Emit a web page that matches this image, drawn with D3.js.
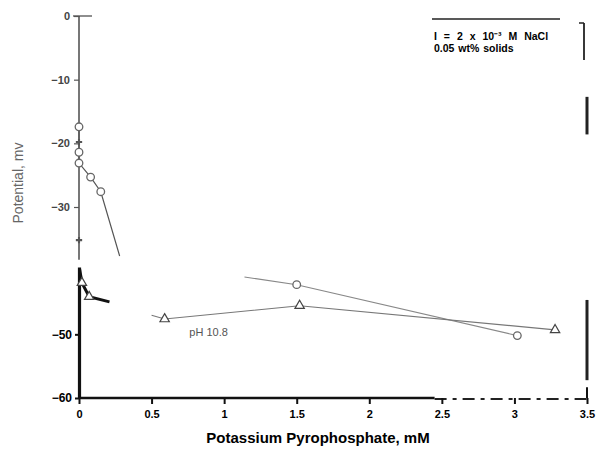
<!DOCTYPE html>
<html><head><meta charset="utf-8">
<script src="https://cdn.jsdelivr.net/npm/d3@7"></script>
<style>body{margin:0;background:#fff}svg{display:block}</style>
</head><body>
<svg id="c" width="600" height="453"></svg>
<script>
// ---- data ----
const xTicks = [0, 0.5, 1, 1.5, 2, 2.5, 3, 3.5];
const xTickLabels = ["0", "0.5", "1", "1.5", "2", "2.5", "3", "3.5"];
const yTicksUpper = [0, -10, -20, -30];
const yTicksLower = [-50, -60];
// circle series, upper fragment (last point is the end of the line, no marker)
const circUpX = [0, 0, 0, 0.08, 0.15, 0.28];
const circUpY = [-17.4, -21.4, -23.1, -25.3, -27.6, -37.7];
const circUpMarked = [true, true, true, true, true, false];
// circle series, lower fragment
const circLoX = [1.14, 1.5, 3.02];
const circLoY = [-41.0, -42.2, -50.2];
const circLoMarked = [false, true, true];
// triangle series: crosses on the axis (upper fragment)
const triUpX = [0, 0];
const triUpY = [-19.8, -35.2];
// triangle series, lower fragment (heavy part near origin)
const triHeavyX = [0.02, 0.07, 0.21];
const triHeavyY = [-41.9, -44.1, -44.9];
const triHeavyMarked = [true, true, false];
// triangle series, light part
const triLoX = [0.5, 0.59, 1.52, 3.28];
const triLoY = [-47.0, -47.6, -45.5, -49.3];
const triLoMarked = [false, true, true, true];
const seriesLabel = "pH 10.8";
const legendLines = ["I = 2 x 10\u207B\u00B3 M NaCl", "0.05 wt% solids"];
const xTitle = "Potassium Pyrophosphate, mM";
const yTitle = "Potential, mv";

// ---- drawing ----
const svg = d3.select("#c");
const x = d3.scaleLinear().domain([0, 3.5]).range([79, 587]);
const y = d3.scaleLinear().domain([0, -60]).range([16, 398]);
const F = "'Liberation Sans', Arial, sans-serif";

const zip = (a, b, m) => a.map((v, i) => ({x: v, y: b[i], m: m ? m[i] : true}));
const line = d3.line().x(d => x(d.x)).y(d => y(d.y));

// Y axis: thin upper part, heavy lower part
svg.append("line").attr("x1", x(0)).attr("x2", x(0)).attr("y1", y(0)).attr("y2", y(-38.3))
  .attr("stroke", "#555").attr("stroke-width", 1.6);
svg.append("line").attr("x1", x(0) + 0.5).attr("x2", x(0) + 0.5).attr("y1", y(-39.5)).attr("y2", y(-60))
  .attr("stroke", "#111").attr("stroke-width", 3.2);
// zero tick extends right
svg.append("line").attr("x1", x(0) - 6).attr("x2", x(0) + 13).attr("y1", y(0)).attr("y2", y(0))
  .attr("stroke", "#444").attr("stroke-width", 1.2);

const yAxUp = d3.axisLeft(y).tickValues(yTicksUpper).tickSize(5).tickPadding(4)
  .tickFormat(d => d === 0 ? "0" : "\u2212" + Math.abs(d));
const gUp = svg.append("g").attr("transform", `translate(${x(0)},0)`).call(yAxUp);
gUp.select(".domain").remove();
gUp.selectAll("line").attr("stroke", "#555").attr("stroke-width", 1.2);
gUp.selectAll("text").attr("font-family", F).attr("font-size", 11).attr("font-weight", "bold").attr("fill", "#444");

const yAxLo = d3.axisLeft(y).tickValues(yTicksLower).tickSize(4).tickPadding(3)
  .tickFormat(d => "\u2212" + Math.abs(d));
const gLo = svg.append("g").attr("transform", `translate(${x(0)},0)`).call(yAxLo);
gLo.select(".domain").remove();
gLo.selectAll("line").attr("stroke", "#111").attr("stroke-width", 2);
gLo.selectAll("text").attr("font-family", F).attr("font-size", 12).attr("font-weight", "900").attr("fill", "#000");

// X axis
svg.append("line").attr("x1", x(0)).attr("x2", x(2.45)).attr("y1", y(-60)).attr("y2", y(-60))
  .attr("stroke", "#111").attr("stroke-width", 2.6);
svg.append("line").attr("x1", x(2.45)).attr("x2", x(3.5)).attr("y1", y(-60) + 1).attr("y2", y(-60) + 1)
  .attr("stroke", "#222").attr("stroke-width", 1.8).attr("stroke-dasharray", "12,6,4,6");
const xAx = d3.axisBottom(x).tickValues(xTicks).tickSize(6).tickPadding(6)
  .tickFormat((d, i) => xTickLabels[i]);
const gX = svg.append("g").attr("transform", `translate(0,${y(-60)})`).call(xAx);
gX.select(".domain").remove();
gX.selectAll("line").attr("stroke", "#111").attr("stroke-width", 2);
gX.selectAll("text").attr("font-family", F).attr("font-size", 11).attr("font-weight", "900").attr("fill", "#000");

// right frame fragments at x = 3.5
svg.append("line").attr("x1", x(3.5)).attr("x2", x(3.5)).attr("y1", y(-12.7)).attr("y2", y(-18.6))
  .attr("stroke", "#222").attr("stroke-width", 3);
svg.append("line").attr("x1", x(3.5)).attr("x2", x(3.5)).attr("y1", y(-44.6)).attr("y2", y(-57.2))
  .attr("stroke", "#222").attr("stroke-width", 3);
svg.append("line").attr("x1", x(3.5)).attr("x2", x(3.5)).attr("y1", y(-58.3)).attr("y2", y(-60))
  .attr("stroke", "#111").attr("stroke-width", 2);

// circle series
const cUp = zip(circUpX, circUpY, circUpMarked);
svg.append("path").attr("d", line(cUp)).attr("fill", "none").attr("stroke", "#555").attr("stroke-width", 1.2);
const cLo = zip(circLoX, circLoY, circLoMarked);
svg.append("path").attr("d", line(cLo)).attr("fill", "none").attr("stroke", "#888").attr("stroke-width", 1.1);
svg.selectAll(".circ").data(cUp.concat(cLo).filter(d => d.m)).join("circle")
  .attr("cx", d => x(d.x)).attr("cy", d => y(d.y)).attr("r", 3.8)
  .attr("fill", "#fff").attr("stroke", "#666").attr("stroke-width", 1.3);

// triangle series
const tri = d3.symbol().type(d3.symbolTriangle).size(38);
svg.selectAll(".cross").data(zip(triUpX, triUpY)).join("path")
  .attr("d", d3.symbol().type(d3.symbolCross).size(22))
  .attr("transform", d => `translate(${x(d.x)},${y(d.y)})`).attr("fill", "#555");
const tH = zip(triHeavyX, triHeavyY, triHeavyMarked);
svg.append("path").attr("d", line([{x: 0.005, y: -39.8}].concat(tH))).attr("fill", "none")
  .attr("stroke", "#111").attr("stroke-width", 3);
const tL = zip(triLoX, triLoY, triLoMarked);
svg.append("path").attr("d", line(tL)).attr("fill", "none").attr("stroke", "#777").attr("stroke-width", 1.1);
svg.selectAll(".tri").data(tH.concat(tL).filter(d => d.m)).join("path")
  .attr("d", tri).attr("transform", d => `translate(${x(d.x)},${y(d.y)})`)
  .attr("fill", "#fff").attr("stroke", "#444").attr("stroke-width", 1.2);

// series label
svg.append("text").attr("x", x(0.76)).attr("y", y(-50.2)).text(seriesLabel)
  .attr("font-family", F).attr("font-size", 11).attr("fill", "#555");

// legend
svg.append("line").attr("x1", 432).attr("x2", 560).attr("y1", 19).attr("y2", 19).attr("stroke", "#222").attr("stroke-width", 1.5);
svg.append("line").attr("x1", 584).attr("x2", 584).attr("y1", 23).attr("y2", 60).attr("stroke", "#222").attr("stroke-width", 1.8);
svg.append("line").attr("x1", 579).attr("x2", 584).attr("y1", 23).attr("y2", 23).attr("stroke", "#222").attr("stroke-width", 1.5);
svg.selectAll(".leg").data(legendLines).join("text")
  .attr("x", 434).attr("y", (d, i) => 40 + i * 12).text(d => d)
  .attr("word-spacing", (d, i) => i === 0 ? 4 : 1)
  .attr("font-family", F).attr("font-size", 10.5).attr("font-weight", "900").attr("fill", "#000");

// titles
svg.append("text").attr("x", 318).attr("y", 443).attr("text-anchor", "middle").text(xTitle)
  .attr("font-family", F).attr("font-size", 15).attr("font-weight", "900").attr("fill", "#000");
svg.append("text").attr("transform", "translate(23,183) rotate(-90)").attr("text-anchor", "middle").text(yTitle)
  .attr("font-family", F).attr("font-size", 14).attr("fill", "#666");
</script>
</body></html>
